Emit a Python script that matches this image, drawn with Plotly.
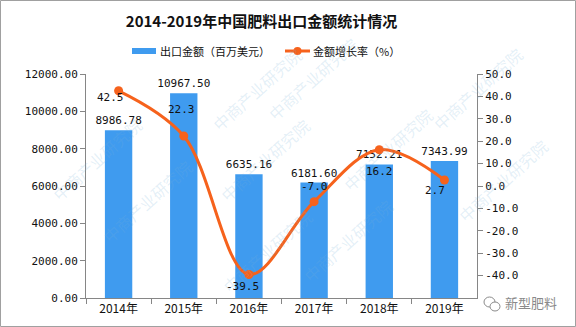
import plotly.graph_objects as go
from plotly.subplots import make_subplots

# Fertilizer export value (million USD) and its year-on-year growth (%)
years = ["2014年", "2015年", "2016年", "2017年", "2018年", "2019年"]
export_value = [8986.78, 10967.50, 6635.16, 6181.60, 7152.21, 7343.99]
growth_rate = [42.5, 22.3, -39.5, -7.0, 16.2, 2.7]
# pixel offsets of each growth label from its point
growth_label_shift = [(-8, -7), (-2, 27), (-6, -12), (0, 15), (0, -22), (-9, -11)]

left_ticks = [0, 2000, 4000, 6000, 8000, 10000, 12000]
right_ticks = [-40, -30, -20, -10, 0, 10, 20, 30, 40, 50]

BAR_BLUE = "#3F9BEF"
LINE_ORANGE = "#F6621C"
AXIS_GRAY = "#868686"
MONO = "DejaVu Sans Mono"
CJK = "Noto Sans CJK SC"

W, H = 576, 327
ML, MR, MT, MB = 86, 74, 74, 29

fig = make_subplots(specs=[[{"secondary_y": True}]])

fig.add_trace(
    go.Bar(
        x=years, y=export_value, name="出口金额（百万美元）",
        marker=dict(color=BAR_BLUE, line=dict(width=0)),
        width=0.42,
        text=[f"{v:.2f}" for v in export_value],
        textposition="outside", constraintext="none",
        textfont=dict(family=MONO, size=11, color="#111"),
        cliponaxis=False, showlegend=False,
    ),
    secondary_y=False,
)

fig.add_trace(
    go.Scatter(
        x=years, y=growth_rate, name="金额增长率（%）",
        mode="lines+markers",
        line=dict(color=LINE_ORANGE, width=3, shape="spline", smoothing=1.0),
        marker=dict(color=LINE_ORANGE, size=9),
        cliponaxis=False, showlegend=False,
    ),
    secondary_y=True,
)

fig.update_xaxes(
    showline=True, linecolor=AXIS_GRAY, linewidth=1,
    ticks="outside", tickson="boundaries", ticklen=5, tickcolor=AXIS_GRAY,
    tickfont=dict(family=CJK, size=12, color="#111"),
    showgrid=False, zeroline=False,
)
fig.update_yaxes(
    range=[0, 12000], tickvals=left_ticks,
    ticktext=[f"{v:.2f}" for v in left_ticks],
    showline=True, linecolor=AXIS_GRAY, linewidth=1,
    ticks="outside", ticklen=5, tickcolor=AXIS_GRAY,
    tickfont=dict(family=MONO, size=11, color="#111"),
    showgrid=False, zeroline=False,
    secondary_y=False,
)
fig.update_yaxes(
    range=[-50, 50], tickvals=right_ticks,
    ticktext=[f"{v:.1f}" for v in right_ticks],
    showline=True, linecolor=AXIS_GRAY, linewidth=1,
    ticks="outside", ticklen=5, tickcolor=AXIS_GRAY,
    tickfont=dict(family=MONO, size=11, color="#111"),
    showgrid=False, zeroline=False,
    secondary_y=True,
)

pw, ph = W - ML - MR, H - MT - MB


def px(x):
    return (x - ML) / pw


def py(y):
    return (H - MB - y) / ph


annotations = []
# faint diagonal watermark
for (wx, wy) in [(45, 110), (205, 40), (365, 30), (530, 40),
                 (95, 250), (265, 160), (440, 150), (215, 300),
                 (400, 290), (555, 230)]:
    annotations.append(dict(
        x=px(wx), y=py(wy), xref="paper", yref="paper",
        text="中商产业研究院", showarrow=False, textangle=-42,
        font=dict(family=CJK, size=16, color="rgba(120,175,215,0.2)"),
    ))

# growth-rate value labels
for yr, g, (dx, dy) in zip(years, growth_rate, growth_label_shift):
    annotations.append(dict(
        x=yr, y=g, xref="x", yref="y2", text=f"{g:.1f}", showarrow=False,
        xshift=dx, yshift=dy,
        font=dict(family=MONO, size=11, color="#111"),
    ))

# legend drawn by hand: wide blue bar swatch, line swatch with dot
annotations += [
    dict(x=px(158), y=py(51), xref="paper", yref="paper", xanchor="left",
         yanchor="middle", text="出口金额（百万美元）", showarrow=False,
         font=dict(family=CJK, size=11, color="#111")),
    dict(x=px(311), y=py(51), xref="paper", yref="paper", xanchor="left",
         yanchor="middle", text="金额增长率（%）", showarrow=False,
         font=dict(family=CJK, size=11, color="#111")),
    dict(x=px(503), y=py(302), xref="paper", yref="paper", xanchor="left",
         yanchor="middle", text="新型肥料", showarrow=False,
         font=dict(family=CJK, size=13, color="#8a8a8a")),
]

shapes = [
    dict(type="rect", xref="paper", yref="paper",
         x0=px(132), x1=px(156), y0=py(54), y1=py(48),
         line=dict(width=0), fillcolor=BAR_BLUE),
    dict(type="line", xref="paper", yref="paper",
         x0=px(285), x1=px(310), y0=py(51), y1=py(51),
         line=dict(color=LINE_ORANGE, width=3)),
    dict(type="circle", xref="paper", yref="paper",
         x0=px(293.5), x1=px(301.5), y0=py(55), y1=py(47),
         line=dict(width=0), fillcolor=LINE_ORANGE),
    # small chat-bubble mark beside the account name
    dict(type="circle", xref="paper", yref="paper",
         x0=px(484), x1=px(495), y0=py(307), y1=py(297),
         line=dict(color="#8a8a8a", width=1), fillcolor="white"),
    dict(type="circle", xref="paper", yref="paper",
         x0=px(490), x1=px(500), y0=py(311), y1=py(302),
         line=dict(color="#8a8a8a", width=1), fillcolor="white"),
    dict(type="rect", xref="paper", yref="paper",
         x0=px(0.5), x1=px(575.5), y0=py(326.5), y1=py(0.5),
         line=dict(color="#a0a0a0", width=1), fillcolor="rgba(0,0,0,0)"),
]

fig.update_layout(
    width=W, height=H,
    margin=dict(l=ML, r=MR, t=MT, b=MB),
    paper_bgcolor="white", plot_bgcolor="white",
    title=dict(
        text="<b>2014-2019年中国肥料出口金额统计情况</b>",
        x=261.5 / W, xanchor="center", y=1 - 22 / H, yanchor="middle",
        font=dict(family=CJK, size=15, color="#111"),
    ),
    showlegend=False,
    annotations=annotations,
    shapes=shapes,
)

fig.write_html("out.html")
